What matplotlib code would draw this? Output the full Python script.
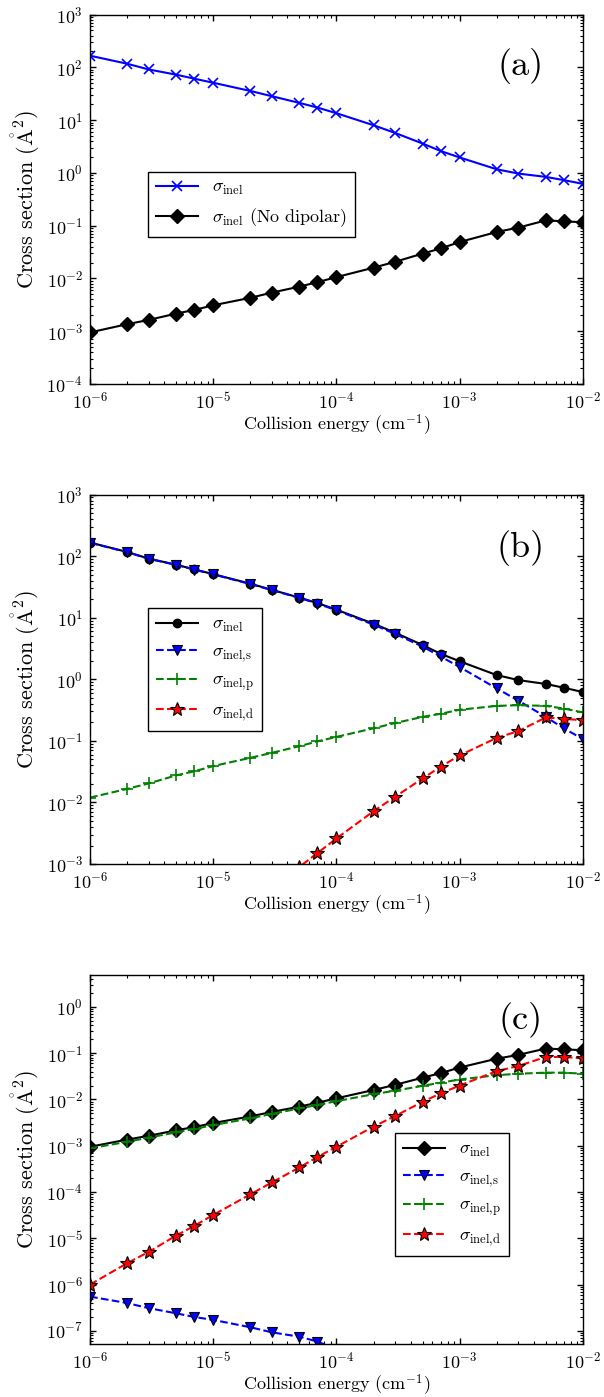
#!/usr/bin/env python3
"""
Inelastic cross sections vs collision energy, three stacked panels
"""
import matplotlib
matplotlib.use('Agg')
import matplotlib.pyplot as plt
from matplotlib.ticker import LogLocator

# collision energies (cm^-1)
energy = [1e-6, 2e-6, 3e-6, 5e-6, 7e-6, 1e-5, 2e-5, 3e-5, 5e-5, 7e-5, 1e-4,
          2e-4, 3e-4, 5e-4, 7e-4, 1e-3, 2e-3, 3e-3, 5e-3, 7e-3, 1e-2]

# panel (a) / (b): total inelastic with dipolar interaction
sig_inel = [166, 117, 91, 72.6, 61, 51, 35.7, 28.3, 21.2, 17.3, 13.5,
            8.0, 5.7, 3.6, 2.6, 1.96, 1.17, 0.97, 0.84, 0.73, 0.62]
# panel (a) / (c): total inelastic without dipolar interaction
sig_nodip = [9.5e-4, 1.36e-3, 1.64e-3, 2.16e-3, 2.53e-3, 3.1e-3, 4.3e-3,
             5.4e-3, 7.0e-3, 8.5e-3, 1.06e-2, 1.6e-2, 2.07e-2, 2.96e-2,
             3.7e-2, 4.9e-2, 7.6e-2, 9.2e-2, 0.126, 0.121, 0.116]

# panel (b): partial-wave contributions
sig_s_b = [165, 116, 90.5, 72, 60.5, 50.5, 35.2, 28, 21, 17, 13.2,
           7.7, 5.45, 3.4, 2.35, 1.58, 0.71, 0.45, 0.245, 0.16, 0.107]
sig_p_b = [0.012, 0.0166, 0.0204, 0.0275, 0.032, 0.039, 0.053, 0.064,
           0.082, 0.098, 0.116, 0.16, 0.195, 0.245, 0.275, 0.32, 0.37,
           0.38, 0.37, 0.335, 0.29]
sig_d_b = [2.6e-6, 7e-6, 1.3e-5, 2.8e-5, 4.6e-5, 7.8e-5, 2.2e-4, 4.0e-4,
           9.0e-4, 1.5e-3, 2.6e-3, 7.2e-3, 1.24e-2, 2.45e-2, 3.8e-2,
           5.8e-2, 0.112, 0.144, 0.24, 0.228, 0.216]

# panel (c): partial-wave contributions, no dipolar
sig_s_c = [5.5e-7, 4.0e-7, 3.1e-7, 2.4e-7, 2.0e-7, 1.73e-7, 1.2e-7,
           9.3e-8, 7.5e-8, 5.9e-8, 4.0e-8]
sig_p_c = [8.8e-4, 1.22e-3, 1.5e-3, 1.95e-3, 2.3e-3, 2.8e-3, 3.9e-3,
           4.9e-3, 6.4e-3, 7.6e-3, 9.2e-3, 1.3e-2, 1.55e-2, 1.97e-2,
           2.3e-2, 2.7e-2, 3.35e-2, 3.6e-2, 3.8e-2, 3.8e-2, 3.6e-2]
sig_d_c = [1.0e-6, 2.9e-6, 5.1e-6, 1.15e-5, 1.85e-5, 3.2e-5, 8.9e-5,
           1.62e-4, 3.4e-4, 5.7e-4, 9.5e-4, 2.6e-3, 4.4e-3, 8.9e-3,
           1.35e-2, 2.0e-2, 4.1e-2, 5.3e-2, 8.3e-2, 8.3e-2, 7.7e-2]


def format_plotting():
    plt.rcParams['font.family'] = 'serif'
    plt.rcParams['font.serif'] = ['cmr10']
    plt.rcParams['mathtext.fontset'] = 'cm'
    plt.rcParams['axes.formatter.use_mathtext'] = True
    plt.rcParams['font.size'] = 13
    plt.rcParams['xtick.labelsize'] = 13
    plt.rcParams['ytick.labelsize'] = 13
    plt.rcParams['axes.linewidth'] = 1
    plt.rcParams['lines.linewidth'] = 1.5


def style_axes(ax, ylim):
    ax.set_xscale('log')
    ax.set_yscale('log')
    ax.set_xlim(1e-6, 1e-2)
    ax.set_ylim(*ylim)
    for axis in (ax.xaxis, ax.yaxis):
        axis.set_major_locator(LogLocator(base=10, numticks=20))
        axis.set_minor_locator(LogLocator(base=10, subs=range(2, 10),
                                          numticks=20))
    ax.tick_params(which='both', direction='in', top=True, right=True)
    ax.tick_params(which='major', length=4, width=1, pad=5)
    ax.tick_params(which='minor', length=2, width=0.8)
    ax.set_xlabel(r'Collision energy (cm$^{-1}$)', labelpad=1)
    ax.set_ylabel(r'Cross section ($\mathring{\mathrm{A}}^2$)', fontsize=16,
                  labelpad=3)


def add_legend(ax, anchor):
    leg = ax.legend(loc='upper left', bbox_to_anchor=anchor, numpoints=1,
                    fancybox=False, framealpha=1, edgecolor='black',
                    fontsize=13, handlelength=2.3, handletextpad=0.8,
                    labelspacing=0.5, borderpad=0.45, borderaxespad=0)
    leg.get_frame().set_linewidth(1)


def main():
    format_plotting()
    fig = plt.figure(figsize=(6.04, 13.97), dpi=100)
    left, width, height = 0.149, 0.816, 0.2645
    ax_a = fig.add_axes([left, 0.7251, width, height])
    ax_b = fig.add_axes([left, 0.3815, width, height])
    ax_c = fig.add_axes([left, 0.0379, width, height])

    # (a)
    ax_a.plot(energy, sig_inel, color='blue', marker='x', ms=7, mew=1.2,
              label=r'$\sigma_{\text{inel}}$')
    ax_a.plot(energy, sig_nodip, color='black', marker='D', ms=7,
              label=r'$\sigma_{\text{inel}}$ (No dipolar)')
    style_axes(ax_a, (1e-4, 1e3))
    add_legend(ax_a, (0.118, 0.575))
    ax_a.text(0.874, 0.86, '(a)', transform=ax_a.transAxes, fontsize=26,
              ha='center', va='center')

    # (b)
    ax_b.plot(energy, sig_inel, color='black', marker='o', ms=6,
              label=r'$\sigma_{\text{inel}}$')
    ax_b.plot(energy, sig_s_b, color='blue', ls='--', marker='v', ms=7,
              mfc='blue', mec='black', mew=0.8,
              label=r'$\sigma_{\text{inel,s}}$')
    ax_b.plot(energy, sig_p_b, color='green', ls='--', marker='+', ms=9,
              mew=1.2, label=r'$\sigma_{\text{inel,p}}$')
    ax_b.plot(energy, sig_d_b, color='red', ls='--', marker='*', ms=10,
              mfc='red', mec='black', mew=0.8,
              label=r'$\sigma_{\text{inel,d}}$')
    style_axes(ax_b, (1e-3, 1e3))
    add_legend(ax_b, (0.118, 0.692))
    ax_b.text(0.874, 0.854, '(b)', transform=ax_b.transAxes, fontsize=26,
              ha='center', va='center')

    # (c)
    ax_c.plot(energy, sig_nodip, color='black', marker='D', ms=7,
              label=r'$\sigma_{\text{inel}}$')
    ax_c.plot(energy[:len(sig_s_c)], sig_s_c, color='blue', ls='--',
              marker='v', ms=7, mfc='blue', mec='black', mew=0.8,
              label=r'$\sigma_{\text{inel,s}}$')
    ax_c.plot(energy, sig_p_c, color='green', ls='--', marker='+', ms=9,
              mew=1.2, label=r'$\sigma_{\text{inel,p}}$')
    ax_c.plot(energy, sig_d_c, color='red', ls='--', marker='*', ms=10,
              mfc='red', mec='black', mew=0.8,
              label=r'$\sigma_{\text{inel,d}}$')
    style_axes(ax_c, (5.2e-8, 5))
    add_legend(ax_c, (0.619, 0.57))
    ax_c.text(0.874, 0.876, '(c)', transform=ax_c.transAxes, fontsize=26,
              ha='center', va='center')

    fig.savefig('out.png', dpi=100)


if __name__ == "__main__":
    main()
